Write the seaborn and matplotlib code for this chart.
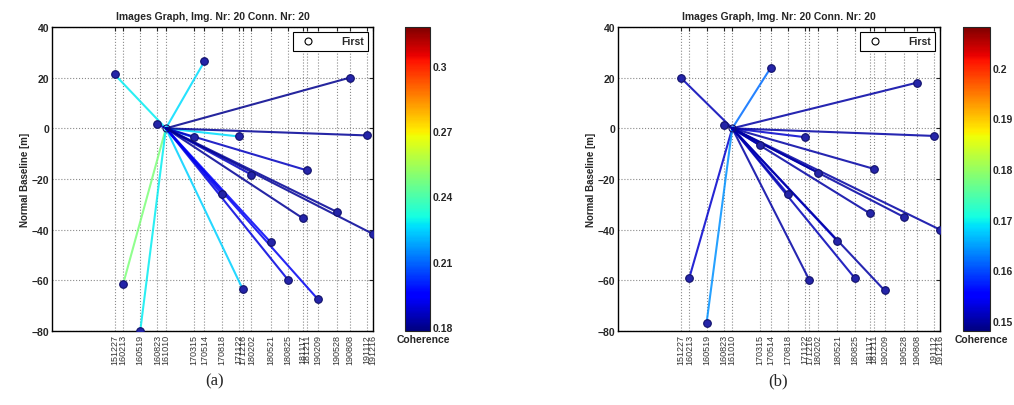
import numpy as np
import pandas as pd
import matplotlib
matplotlib.use('Agg')
import matplotlib.pyplot as plt
from matplotlib.lines import Line2D
import seaborn as sns

# acquisition dates (yymmdd), hub image and baselines
dates = ['151227', '160213', '160519', '160823', '161010', '170315', '170514',
         '170818', '171122', '171216', '180202', '180521', '180825', '181117',
         '181211', '190209', '190528', '190808', '191112', '191216']
hub_date = '161010'

bperp_a = [21.3, -61.5, -80.0, 1.6, 0.0, -3.6, 26.4, -25.8, -3.2, -63.6,
           -18.3, -45.0, -59.7, -35.5, -16.6, -67.4, -33.0, 20.0, -2.8, -41.7]
coh_a = [0.228, 0.248, 0.228, 0.190, np.nan, 0.205, 0.226, 0.192, 0.226, 0.224,
         0.186, 0.193, 0.190, 0.181, 0.186, 0.192, 0.181, 0.180, 0.181, 0.181]

bperp_b = [20.0, -59.0, -77.0, 1.5, 0.0, -6.7, 24.0, -26.0, -3.5, -60.0,
           -17.5, -44.5, -59.0, -33.5, -16.0, -64.0, -35.0, 18.0, -3.0, -40.0]
coh_b = [0.151, 0.152, 0.164, 0.151, np.nan, 0.153, 0.162, 0.151, 0.152, 0.150,
         0.151, 0.153, 0.151, 0.150, 0.150, 0.150, 0.150, 0.150, 0.150, 0.150]

cbar_ticks_a = [0.18, 0.21, 0.24, 0.27, 0.30]
cbar_lims_a = (0.178, 0.318)
cbar_ticks_b = [0.15, 0.16, 0.17, 0.18, 0.19, 0.20]
cbar_lims_b = (0.148, 0.208)

sns.set_style('white')
plt.rcParams['font.family'] = ['Liberation Sans', 'DejaVu Sans']

fig = plt.figure(figsize=(10.14, 4.06), dpi=100)
cmap = plt.get_cmap('jet')


def draw_panel(ax_rect, cax_rect, bperp, coh, lims, cticks, caption, cap_x):
    ax = fig.add_axes(ax_rect)
    df = pd.DataFrame({'date': pd.to_datetime(dates, format='%y%m%d'),
                       'bperp': bperp, 'coh': coh})
    hub = df[df['date'] == pd.to_datetime(hub_date, format='%y%m%d')].iloc[0]
    norm = plt.Normalize(*lims)

    # connections from the hub image to every other image
    for _, row in df.iterrows():
        if np.isnan(row['coh']):
            continue
        ax.plot([hub['date'], row['date']], [hub['bperp'], row['bperp']],
                color=cmap(norm(row['coh'])), lw=1.5, alpha=0.85, zorder=2)

    others = df[~df['coh'].isna()]
    sns.scatterplot(data=others, x='date', y='bperp', ax=ax, color='#2424a8',
                    edgecolor='#10106a', s=30, linewidth=0.8, zorder=3,
                    legend=False)
    ax.plot([hub['date']], [hub['bperp']], 'o', mfc='none', mec='#10106a',
            ms=5, mew=0.8, zorder=4)

    ax.set_xticks(df['date'])
    ax.set_xticklabels(dates, rotation=90, fontsize=6.5, color='#333333')
    ax.set_xlim(pd.Timestamp('2015-01-10'), df['date'].iloc[-1])
    ax.set_ylim(-80, 40)
    ax.set_yticks([-80, -60, -40, -20, 0, 20, 40])
    for lab in ax.get_yticklabels():
        lab.set_fontweight('bold')
        lab.set_fontsize(7.5)
    ax.tick_params(direction='in', top=True, right=True, length=3, width=0.8,
                   pad=2)
    ax.grid(True, linestyle=':', color='#8a8a8a', linewidth=0.8)
    for sp in ax.spines.values():
        sp.set_color('black')
        sp.set_linewidth(1.0)
    ax.set_xlabel('')
    ax.set_ylabel('Normal Baseline [m]', fontsize=7, fontweight='bold', labelpad=1)
    ax.set_title('Images Graph, Img. Nr: 20 Conn. Nr: 20', fontsize=7.5,
                 fontweight='bold', pad=6)

    handle = Line2D([], [], marker='o', mfc='none', mec='black', ls='none',
                    ms=5, mew=0.8)
    leg = ax.legend([handle], ['First'], loc='upper right', fancybox=False,
                    framealpha=1, edgecolor='black',
                    handletextpad=2.2, borderaxespad=0.5,
                    prop={'weight': 'bold', 'size': 7.5})
    leg.get_frame().set_linewidth(0.8)

    # colorbar
    cax = fig.add_axes(cax_rect)
    sm = plt.cm.ScalarMappable(norm=norm, cmap=cmap)
    cb = fig.colorbar(sm, cax=cax)
    cb.set_ticks(cticks)
    cb.set_ticklabels([f'{t:g}' for t in cticks])
    cax.tick_params(direction='in', length=3, labelsize=7.5, pad=2,
                    left=True, right=True)
    for lab in cax.get_yticklabels():
        lab.set_fontweight('bold')
    cb.outline.set_linewidth(0.8)
    cax.annotate('Coherence', xy=(0.0, 0.0), xycoords='axes fraction',
                 xytext=(-6, -2), textcoords='offset points', ha='left',
                 va='top', fontsize=7.5, fontweight='bold')

    fig.text(cap_x, 0.04, caption, fontsize=12, family='Liberation Serif',
             ha='center', va='bottom')
    return ax


draw_panel([52 / 1014, 74 / 406, 321 / 1014, 304 / 406],
           [405 / 1014, 74 / 406, 25 / 1014, 304 / 406],
           bperp_a, coh_a, cbar_lims_a, cbar_ticks_a, '(a)', 215 / 1014)
draw_panel([618 / 1014, 74 / 406, 322 / 1014, 304 / 406],
           [963 / 1014, 74 / 406, 27 / 1014, 304 / 406],
           bperp_b, coh_b, cbar_lims_b, cbar_ticks_b, '(b)', 778 / 1014)

fig.savefig('out.png', dpi=100)
